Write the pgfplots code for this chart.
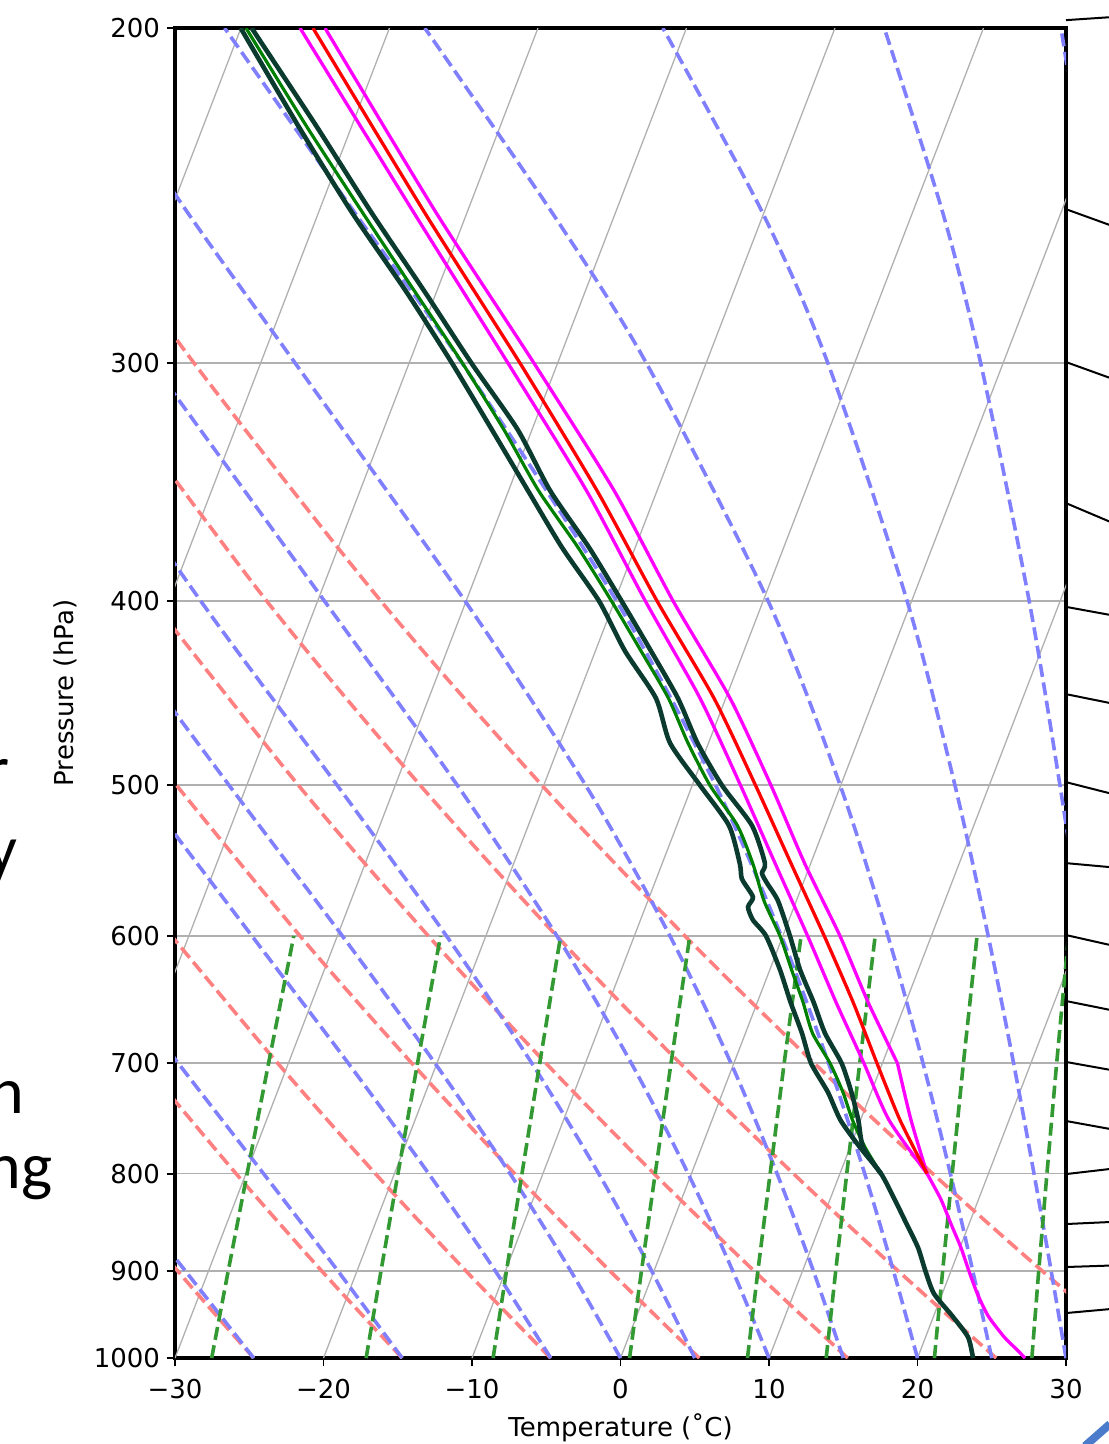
\documentclass[border=0pt]{standalone}
\usepackage{fontspec}
\setmainfont{DejaVu Sans}
\newfontfamily\slidefont{Carlito}
\usepackage{pgfplots}
\pgfplotsset{compat=1.18}
\definecolor{isogray}{HTML}{B0B0B0}
\definecolor{dryred}{HTML}{FF8080}
\definecolor{moistblue}{HTML}{8080FF}
\definecolor{mixgreen}{HTML}{339933}
\definecolor{darkprof}{HTML}{0B3A2E}
\definecolor{midgreen}{HTML}{008000}
\definecolor{magline}{HTML}{FF00FF}
\definecolor{redline}{HTML}{FF0000}
\definecolor{slideblue}{HTML}{4A7CCB}
\newcommand{\sk}{21.40}
\pgfplotsset{
  /pgfplots/table/skew/.style={row sep=\\, x expr={\thisrow{T}+\sk*ln(1000/\thisrow{p})}, y=p},
  iso/.style={isogray, line width=0.65pt},
  dry/.style={dryred, line width=1.8pt, dash pattern=on 6.5pt off 2.8pt, smooth},
  moist/.style={moistblue, line width=1.8pt, dash pattern=on 6.5pt off 2.8pt, smooth},
  mix/.style={mixgreen, line width=1.8pt, dash pattern=on 6.5pt off 2.8pt},
  darkp/.style={darkprof, line width=2.3pt, smooth, tension=0.4},
  greenp/.style={midgreen, line width=1.6pt, smooth, tension=0.4},
  magp/.style={magline, line width=1.65pt, smooth, tension=0.4},
  redp/.style={redline, line width=1.65pt, smooth, tension=0.4},
}
\begin{document}
\begin{tikzpicture}[font=\fontsize{13}{15.6}\selectfont]
\begin{axis}[
  at={(0pt,0pt)}, anchor=south west,
  scale only axis, width=445.5pt, height=665pt,
  xmin=-30, xmax=30, ymin=200, ymax=1000,
  ymode=log, y dir=reverse,
  xtick={-30,-20,-10,0,10,20,30},
  xticklabels={−30,−20,−10,0,10,20,30},
  ytick={200,300,400,500,600,700,800,900,1000},
  yticklabels={200,300,400,500,600,700,800,900,1000},
  yminorticks=false, xminorticks=false,
  ymajorgrids, major grid style={isogray, line width=0.8pt},
  tick pos=left, tick align=outside, major tick length=4pt,
  every tick/.style={black, line width=0.9pt},
  axis line style={black, line width=1.6pt},
  xticklabel style={yshift=-3pt},
  xlabel={Temperature (˚C)}, ylabel={Pressure (hPa)},
  every axis x label/.style={at={(axis description cs:0.5,0)}, anchor=base, yshift=-39pt},
  every axis y label/.style={at={(axis description cs:0,0.5)}, xshift=-51pt, rotate=90, anchor=base},
  no markers,
]
% isotherms
\addplot[iso] table[skew] {T p\\ -60 1000\\ -60 200\\};
\addplot[iso] table[skew] {T p\\ -50 1000\\ -50 200\\};
\addplot[iso] table[skew] {T p\\ -40 1000\\ -40 200\\};
\addplot[iso] table[skew] {T p\\ -30 1000\\ -30 200\\};
\addplot[iso] table[skew] {T p\\ -20 1000\\ -20 200\\};
\addplot[iso] table[skew] {T p\\ -10 1000\\ -10 200\\};
\addplot[iso] table[skew] {T p\\ 0 1000\\ 0 200\\};
\addplot[iso] table[skew] {T p\\ 10 1000\\ 10 200\\};
\addplot[iso] table[skew] {T p\\ 20 1000\\ 20 200\\};
\addplot[iso] table[skew] {T p\\ 30 1000\\ 30 200\\};
% dry adiabats
\addplot[dry] table[skew] {T p\\ -24.7 1000\\ -32.07 900\\ -40.05 800\\};
\addplot[dry] table[skew] {T p\\ -14.7 1000\\ -22.37 900\\ -30.66 800\\ -39.74 700\\};
\addplot[dry] table[skew] {T p\\ -4.7 1000\\ -12.66 900\\ -21.28 800\\ -30.71 700\\ -41.16 600\\};
\addplot[dry] table[skew] {T p\\ 5.3 1000\\ -2.96 900\\ -11.90 800\\ -21.68 700\\ -32.51 600\\ -44.73 500\\};
\addplot[dry] table[skew] {T p\\ 15.3 1000\\ 6.75 900\\ -2.52 800\\ -12.65 700\\ -23.87 600\\ -36.52 500\\ -51.14 400\\};
\addplot[dry] table[skew] {T p\\ 25.3 1000\\ 16.45 900\\ 6.87 800\\ -3.62 700\\ -15.23 600\\ -28.32 500\\ -43.44 400\\ -61.57 300\\};
\addplot[dry] table[skew] {T p\\ 35.3 1000\\ 26.15 900\\ 16.25 800\\ 5.42 700\\ -6.59 600\\ -20.12 500\\ -35.75 400\\ -54.48 300\\ -65.58 250\\};
% moist adiabats
\addplot[moist] table[skew] {T p\\ -24.7 1000\\ -31.55 900\\ -39.24 800\\};
\addplot[moist] table[skew] {T p\\ -14.7 1000\\ -21.28 900\\ -28.81 800\\ -37.41 700\\ -47.27 600\\};
\addplot[moist] table[skew] {T p\\ -4.7 1000\\ -10.68 900\\ -17.69 800\\ -25.96 700\\ -35.75 600\\ -47.32 500\\};
\addplot[moist] table[skew] {T p\\ 0 1000\\ -5.60 900\\ -12.21 800\\ -20.12 700\\ -29.66 600\\ -41.19 500\\ -55.16 400\\};
\addplot[moist] table[skew] {T p\\ 5 1000\\ -0.15 900\\ -6.24 800\\ -13.60 700\\ -22.65 600\\ -33.91 500\\ -47.88 400\\ -65.1 300\\};
\addplot[moist] table[skew] {T p\\ 10 1000\\ 5.31 900\\ -0.22 800\\ -6.90 700\\ -15.21 600\\ -25.82 500\\ -39.55 400\\ -57.31 300\\};
\addplot[moist] table[skew] {T p\\ 15 1000\\ 10.74 900\\ 5.77 800\\ -0.19 700\\ -7.60 600\\ -17.18 500\\ -30.08 400\\ -47.67 300\\ -58.82 250\\ -71.94 200\\};
\addplot[moist] table[skew] {T p\\ 20 1000\\ 16.13 900\\ 11.67 800\\ 6.38 700\\ -0.10 600\\ -8.43 500\\ -19.88 400\\ -36.43 300\\ -47.57 250\\ -61.10 200\\};
\addplot[moist] table[skew] {T p\\ 25 1000\\ 21.47 900\\ 17.44 800\\ 12.74 700\\ 7.08 600\\ -0.04 500\\ -9.67 400\\ -24.02 300\\ -34.28 250\\ -47.62 200\\};
\addplot[moist] table[skew] {T p\\ 30 1000\\ 26.75 900\\ 23.07 800\\ 18.84 700\\ 13.83 600\\ 7.69 500\\ -0.31 400\\ -11.80 300\\ -20.11 250\\ -31.59 200\\};
\addplot[moist] table[skew] {T p\\ 35 1000\\ 31.97 900\\ 28.57 800\\ 24.70 700\\ 20.19 600\\ 14.76 500\\ 7.91 400\\ -1.51 300\\ -7.97 250\\ -16.68 200\\};
\addplot[moist] table[skew] {T p\\ 40 1000\\ 37.14 900\\ 33.95 800\\ 30.35 700\\ 26.20 600\\ 21.28 500\\ 15.20 400\\ 7.19 300\\ 1.94 250\\ -4.78 200\\};
% mixing ratio lines
\addplot[mix] table[skew] {T p\\ -27.53 1000\\ -28.67 900\\ -29.92 800\\ -31.33 700\\ -32.93 600\\};
\addplot[mix] table[skew] {T p\\ -17.13 1000\\ -18.38 900\\ -19.76 800\\ -21.30 700\\ -23.05 600\\};
\addplot[mix] table[skew] {T p\\ -8.58 1000\\ -9.93 900\\ -11.41 800\\ -13.07 700\\ -14.96 600\\};
\addplot[mix] table[skew] {T p\\ 0.61 1000\\ -0.84 900\\ -2.44 800\\ -4.23 700\\ -6.26 600\\};
\addplot[mix] table[skew] {T p\\ 8.55 1000\\ 7.00 900\\ 5.30 800\\ 3.39 700\\ 1.23 600\\};
\addplot[mix] table[skew] {T p\\ 13.85 1000\\ 12.24 900\\ 10.46 800\\ 8.48 700\\ 6.22 600\\};
\addplot[mix] table[skew] {T p\\ 21.14 1000\\ 19.44 900\\ 17.56 800\\ 15.46 700\\ 13.08 600\\};
\addplot[mix] table[skew] {T p\\ 27.70 1000\\ 25.91 900\\ 23.94 800\\ 21.74 700\\ 19.24 600\\};
% profiles: green middle member
\addplot[greenp] table[skew] {T p\\ 12.77 800\\ 11.01 775\\ 9.47 750\\ 8.10 725\\ 6.48 700\\ 4.52 675\\ 3.07 650\\ 1.46 625\\ -0.19 600\\ -2.18 575\\ -3.87 550\\ -5.91 525\\ -8.81 500\\ -11.39 475\\ -13.86 450\\ -16.93 425\\ -20.22 400\\ -23.85 375\\ -27.99 350\\ -31.92 325\\ -36.41 300\\ -41.49 275\\ -47.04 250\\ -53.10 225\\ -59.66 200\\};
% dark profiles
\addplot[darkp] table[skew] {T p\\ 23.74 1000\\ 22.86 975\\ 21.23 950\\ 19.44 925\\ 18.28 900\\ 17.18 875\\ 15.78 850\\ 14.33 825\\ 12.77 800\\ 10.67 775\\ 8.66 750\\ 7.09 725\\ 5.20 700\\ 3.81 675\\ 2.23 650\\ 0.68 625\\ -1.13 600\\ -2.42 588.6\\ -3.09 579.4\\ -3.02 572.4\\ -4.23 560\\ -4.75 550\\ -6.48 525\\ -9.48 500\\ -12.60 475\\ -14.70 450\\ -18.01 425\\ -21.06 400\\ -24.93 375\\ -28.70 350\\ -32.73 325\\ -37.11 300\\ -42.07 275\\ -47.75 250\\ -53.64 225\\ -60.02 200\\};
\addplot[darkp] table[skew] {T p\\ 12.77 800\\ 10.88 775\\ 9.86 750\\ 8.67 725\\ 7.26 700\\ 5.36 675\\ 3.78 650\\ 2.03 625\\ 0.48 600\\ -1.24 575\\ -2.44 562.8\\ -3.03 556.1\\ -3.09 549.4\\ -4.93 525\\ -8.00 500\\ -10.75 475\\ -13.22 450\\ -16.26 425\\ -19.54 400\\ -23.11 375\\ -27.21 350\\ -30.99 325\\ -35.80 300\\ -40.83 275\\ -46.44 250\\ -52.43 225\\ -59.28 200\\};
% magenta and red
\addplot[magp] table[skew] {T p\\ 27.24 1000\\ 26.49 990\\ 25.30 975\\ 23.65 950\\ 22.36 925\\ 21.21 900\\ 20.07 875\\ 18.77 850\\ 17.45 825\\ 15.87 800\\};
\addplot[magp] table[skew] {T p\\ 15.87 800\\ 13.41 750\\ 11.02 700\\};
\addplot[magp] table[skew] {T p\\ 11.02 700\\ 7.45 650\\ 3.85 600\\ -0.37 550\\ -4.70 500\\ -9.71 450\\ -16.07 400\\ -22.90 350\\ -31.59 300\\ -42.09 250\\ -54.34 200\\};
\addplot[magp] table[skew] {T p\\ 15.87 800\\ 11.93 750\\ 8.76 700\\ 5.29 650\\ 1.67 600\\ -2.36 550\\ -6.75 500\\ -11.73 450\\ -17.94 400\\ -24.76 350\\ -33.34 300\\ -43.59 250\\ -56.02 200\\};
\addplot[redp] table[skew] {T p\\ 15.87 800\\ 12.67 750\\ 9.64 700\\ 6.44 650\\ 2.79 600\\ -1.29 550\\ -5.74 500\\ -10.79 450\\ -17.15 400\\ -24.05 350\\ -32.53 300\\ -42.86 250\\ -55.15 200\\};
\end{axis}
% wind barbs, drawn unclipped in a matching axis
\begin{axis}[
  at={(0pt,0pt)}, anchor=south west,
  scale only axis, width=445.5pt, height=665pt,
  xmin=-30, xmax=30, ymin=200, ymax=1000,
  ymode=log, y dir=reverse, hide axis, clip=false, no markers,
]
\addplot[black, line width=1pt, unbounded coords=jump] coordinates {
(30,198.1) (33,197.4) (nan,nan)
(30,249.0) (33,253.9) (nan,nan)
(30,299.6) (33,305.5) (nan,nan)
(30,355.4) (33,363.6) (nan,nan)
(30,402.9) (33,406.9) (nan,nan)
(30,447.8) (33,452.7) (nan,nan)
(30,498.1) (33,505.0) (nan,nan)
(30,549.4) (33,552.1) (nan,nan)
(30,599.4) (33,606.7) (nan,nan)
(30,649.2) (33,656.3) (nan,nan)
(30,698.9) (33,705.7) (nan,nan)
(30,750.7) (33,758.0) (nan,nan)
(30,800.4) (33,795.6) (nan,nan)
(30,850.3) (33,848.2) (nan,nan)
(30,895.7) (33,894.1) (nan,nan)
(30,947.0) (33,942.4)
};
\end{axis}
% fragments of slide text at the left edge
\begin{scope}[every node/.style={inner sep=0pt, anchor=base east, font=\slidefont\fontsize{33}{38}\selectfont}]
\node at (-82.5pt,283pt) {r};
\node at (-78.5pt,243pt) {y};
\node at (-75pt,122pt) {n};
\node at (-61pt,84.5pt) {ng};
\end{scope}
\draw[slideblue, line width=4pt] (455pt,-44pt) -- (467.5pt,-33pt);
\pgfresetboundingbox
\path[use as bounding box] (-87.5pt,-43pt) rectangle (466.5pt,679pt);
\end{tikzpicture}
\end{document}
